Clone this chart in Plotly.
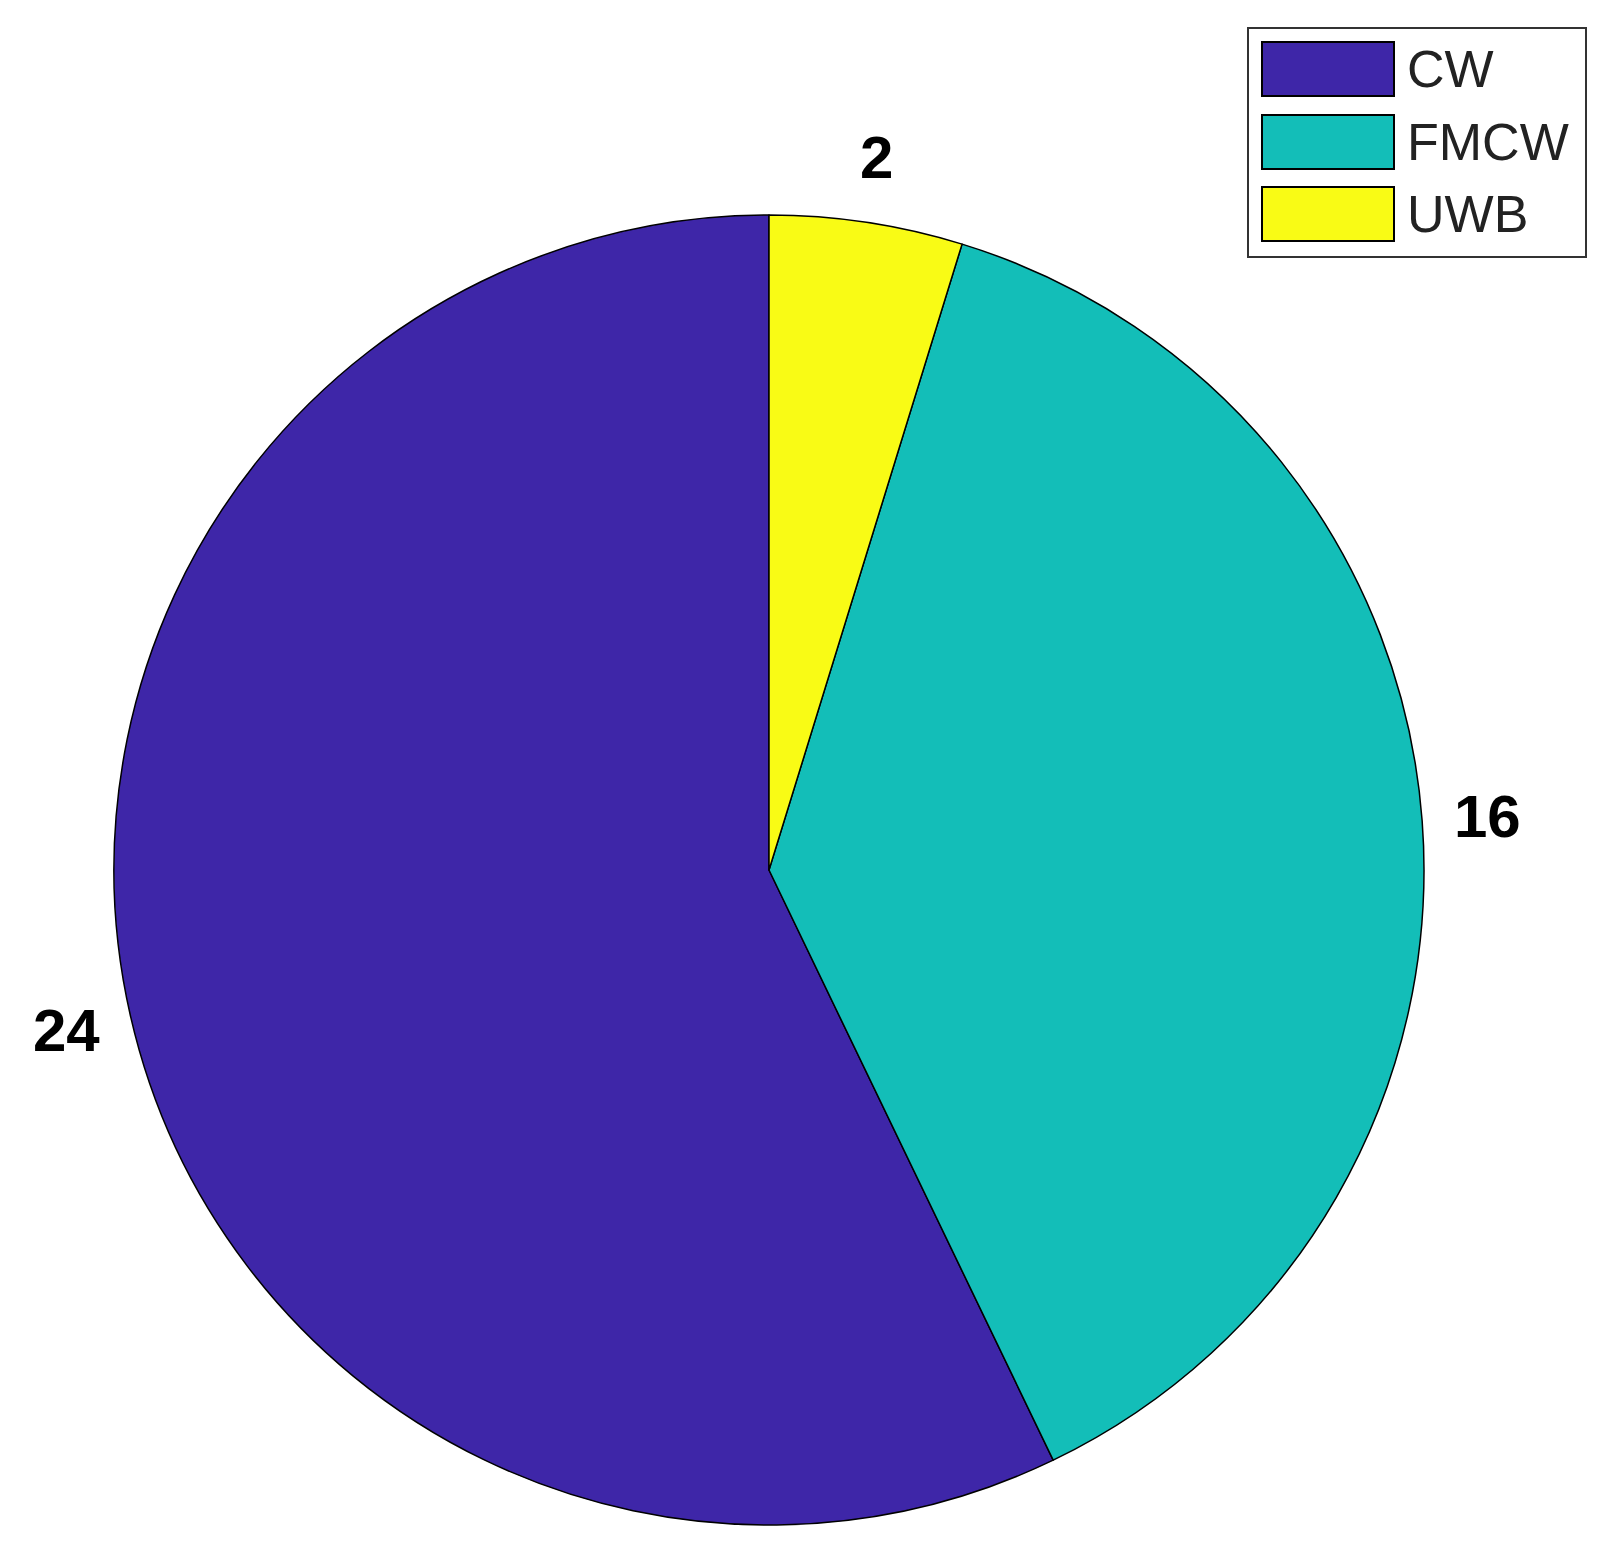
import math
import plotly.graph_objects as go

W, H = 1614, 1555
OFF = 8  # default page margin around the plot div

labels = ["CW", "FMCW", "UWB"]
values = [24, 16, 2]
colors = ["#3E26A8", "#13BEB8", "#F9FB15"]

# pie geometry in page pixels
cx, cy, r = 769, 870, 655
label_factor = 1.1

FW, FH = W - 2 * OFF, H - 2 * OFF


def px(x):
    return (x - OFF) / FW


def py(y):
    return 1 - (y - OFF) / FH


total = sum(values)
# first slice runs counterclockwise from 12 o'clock (matlab style)
rotation = 360 * (1 - values[0] / total)

pie = go.Pie(
    labels=labels,
    values=values,
    sort=False,
    direction="counterclockwise",
    rotation=rotation,
    textinfo="none",
    hoverinfo="label+value",
    marker=dict(colors=colors, line=dict(color="black", width=1.5)),
    domain=dict(x=[px(cx - r), px(cx + r)], y=[py(cy + r), py(cy - r)]),
    showlegend=False,
)

fig = go.Figure(data=[pie])

# value labels outside each slice, at mid angle
annotations = []
start = 90.0
for lab, v in zip(labels, values):
    sweep = v / total * 360
    mid = math.radians(start + sweep / 2)
    start += sweep
    x = cx + r * label_factor * math.cos(mid)
    y = cy - r * label_factor * math.sin(mid)
    annotations.append(dict(
        x=px(x), y=py(y), xref="paper", yref="paper",
        text=f"<b>{v}</b>", showarrow=False,
        xanchor="center", yanchor="middle",
        font=dict(family="Liberation Sans, Arial", size=60, color="black"),
    ))

# legend drawn by hand to get the wide swatches
shapes = [dict(
    type="rect", xref="paper", yref="paper",
    x0=px(1248), x1=px(1586), y0=py(257), y1=py(28),
    line=dict(color="#333333", width=2), fillcolor="white", layer="above",
)]
swatch_tops = [42, 115, 187]
for lab, col, top in zip(labels, colors, swatch_tops):
    shapes.append(dict(
        type="rect", xref="paper", yref="paper",
        x0=px(1262), x1=px(1394), y0=py(top + 54), y1=py(top),
        line=dict(color="black", width=2), fillcolor=col, layer="above",
    ))
    annotations.append(dict(
        x=px(1405), y=py(top + 27), xref="paper", yref="paper",
        text=lab, showarrow=False, xanchor="left", yanchor="middle",
        font=dict(family="Liberation Sans, Arial", size=52, color="#222222"),
    ))

fig.update_layout(
    width=FW,
    height=FH,
    margin=dict(l=0, r=0, t=0, b=0),
    paper_bgcolor="white",
    plot_bgcolor="white",
    shapes=shapes,
    annotations=annotations,
)

fig.write_html("out.html")
